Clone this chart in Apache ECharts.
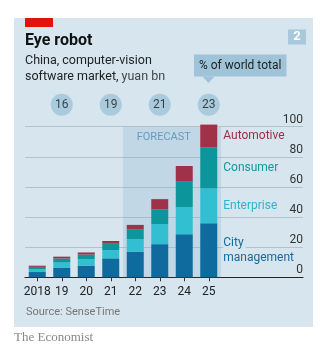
<!DOCTYPE html>
<html>
<head>
<meta charset="utf-8">
<script src="https://cdn.jsdelivr.net/npm/echarts@6/dist/echarts.min.js"></script>
<style>
html,body{margin:0;padding:0;background:#fff;}
#c{width:330px;height:350px;}
</style>
</head>
<body>
<div id="c"></div>
<script>
// ---- data ----
const categories = ['2018', '19', '20', '21', '22', '23', '24', '25'];
const cityManagement = [3.5, 6.5, 7.8, 12.6, 17.0, 22.0, 28.6, 35.9];
const enterprise = [2.0, 3.3, 4.3, 5.5, 8.4, 13.3, 18.0, 23.1];
const consumer = [1.4, 2.7, 3.0, 4.2, 6.3, 9.9, 17.3, 27.3];
const automotive = [0.8, 1.2, 1.4, 1.8, 3.1, 6.7, 10.0, 15.1];
const shareYears = ['19', '21', '23', '25'];
const shareOfWorld = [16, 19, 21, 23];
const yTicks = [0, 20, 40, 60, 80, 100];
const forecastFrom = 4; // index of '22'

// ---- styling ----
const FONT = 'Roboto';
const PANEL = '#d6e5ee';
const CIRCLE_LEVEL = 114.6;
const colors = {
  city: '#0f6a9e',
  ent: '#33bfd2',
  cons: '#0c969b',
  auto: '#9f3249'
};

const chart = echarts.init(document.getElementById('c'), null, {renderer: 'canvas'});
const last = categories.length - 1;

function withEndLabel(arr, labelCfg) {
  return arr.map((v, i) => i === last ? {value: v, label: labelCfg} : v);
}

function barSeries(name, data, color, labelCfg) {
  return {
    type: 'bar', name: name, stack: 'total', xAxisIndex: 0, yAxisIndex: 0,
    barWidth: 17, clip: false, z: 3,
    itemStyle: {color: color},
    label: {show: false},
    data: withEndLabel(data, labelCfg)
  };
}

function legendLabel(text, color) {
  return {
    show: true, position: 'right', distance: 6,
    formatter: text, color: color, fontFamily: FONT, fontSize: 12
  };
}

const option = {
  animation: false,
  backgroundColor: '#ffffff',
  textStyle: {fontFamily: FONT},
  graphic: [
    {type: 'rect', z: -10, shape: {x: 14, y: 18, width: 299, height: 309}, style: {fill: PANEL}},
    {type: 'rect', z: 1, shape: {x: 25, y: 18, width: 28, height: 9}, style: {fill: '#e3120b'}},
    {type: 'text', z: 1, x: 25, y: 41, style: {text: 'Eye robot', fill: '#111', font: 'bold 16px ' + FONT, verticalAlign: 'middle'}},
    {type: 'text', z: 1, x: 25, y: 60.5, style: {text: 'China, computer-vision', fill: '#222', font: '12.5px ' + FONT, verticalAlign: 'middle'}},
    {type: 'text', z: 1, x: 25, y: 76.5, style: {
      text: '{a|software market, }{b|yuan bn}', verticalAlign: 'middle',
      rich: {a: {fill: '#222', font: '12.5px ' + FONT}, b: {fill: '#444', font: '12.5px ' + FONT}}
    }},
    {type: 'rect', z: 1, shape: {x: 288, y: 29.5, width: 18, height: 15}, style: {fill: '#a9c8db'}},
    {type: 'text', z: 2, x: 297, y: 37.2, style: {text: '2', fill: '#fff', font: 'bold 13px ' + FONT, align: 'center', verticalAlign: 'middle'}},
    {type: 'rect', z: 1, shape: {x: 194, y: 54.5, width: 92.5, height: 22}, style: {fill: '#9fc4d9'}},
    {type: 'polygon', z: 1, shape: {points: [[202.5, 76.5], [214.5, 76.5], [208.5, 83]]}, style: {fill: '#9fc4d9'}},
    {type: 'text', z: 2, x: 240.2, y: 65.7, style: {text: '% of world total', fill: '#222', font: '12px ' + FONT, align: 'center', verticalAlign: 'middle'}},
    {type: 'text', z: 1, x: 136.7, y: 137.7, style: {text: 'FORECAST', fill: '#6199bb', font: '11px ' + FONT, verticalAlign: 'middle'}},
    {type: 'text', z: 1, x: 26, y: 312.3, style: {text: 'Source: SenseTime', fill: '#777', font: '11px ' + FONT, verticalAlign: 'middle'}},
    {type: 'text', z: 1, x: 14, y: 337.7, style: {text: 'The Economist', fill: '#888', font: '13px "Liberation Serif"', verticalAlign: 'middle'}}
  ],
  grid: [
    {left: 25, width: 196, top: 126.7, bottom: 72.7},
    {left: 25, right: 27, top: 126.7, bottom: 72.7}
  ],
  xAxis: [
    {
      type: 'category', gridIndex: 0, data: categories,
      axisLine: {show: false},
      axisTick: {show: true, alignWithLabel: true, length: 4, lineStyle: {color: '#333', width: 1}},
      axisLabel: {color: '#222', fontSize: 12, margin: 9, fontFamily: FONT, interval: 0},
      splitLine: {show: false}
    },
    {type: 'value', gridIndex: 0, min: 0, max: categories.length, show: false},
    {
      type: 'value', gridIndex: 1, min: 0, max: 1,
      axisLine: {show: true, onZero: false, lineStyle: {color: '#222', width: 1.2}},
      axisTick: {show: false}, axisLabel: {show: false}, splitLine: {show: false}
    }
  ],
  yAxis: [
    {type: 'value', gridIndex: 0, min: 0, max: 100, show: false},
    {
      type: 'value', gridIndex: 1, position: 'right', min: yTicks[0], max: yTicks[yTicks.length - 1], interval: 20,
      axisLine: {show: false}, axisTick: {show: false},
      axisLabel: {inside: true, margin: 0, verticalAlign: 'bottom', color: '#333', fontSize: 12, fontFamily: FONT, lineHeight: 14},
      splitLine: {show: true, lineStyle: {color: '#b2c3cd', width: 1}}
    }
  ],
  series: [
    {
      type: 'line', xAxisIndex: 1, yAxisIndex: 0, data: [], silent: true,
      markArea: {
        silent: true,
        itemStyle: {color: 'rgba(120,168,200,0.22)'},
        data: [[{xAxis: forecastFrom}, {xAxis: categories.length}]]
      }
    },
    barSeries('City management', cityManagement, colors.city, {
      show: true, position: 'right', distance: 6,
      formatter: '{c|City}\n{m|management}',
      rich: {
        c: {color: '#1a6a9c', fontSize: 12, fontFamily: FONT, backgroundColor: PANEL, padding: [0, 2, 0, 0], lineHeight: 14.5},
        m: {color: '#1a6a9c', fontSize: 12, fontFamily: FONT, lineHeight: 14.5}
      }
    }),
    barSeries('Enterprise', enterprise, colors.ent, legendLabel('Enterprise', '#2db5c9')),
    barSeries('Consumer', consumer, colors.cons, legendLabel('Consumer', '#13979f')),
    barSeries('Automotive', automotive, colors.auto, legendLabel('Automotive', '#9c2f46')),
    {
      type: 'scatter', xAxisIndex: 0, yAxisIndex: 0, clip: false, z: 4,
      symbol: 'circle', symbolSize: 22,
      itemStyle: {color: '#9fc4d9'},
      label: {show: true, position: 'inside', color: '#1a1a1a', fontSize: 12, fontFamily: FONT,
        formatter: p => String(p.data.share)},
      data: shareYears.map((y, i) => ({value: [y, CIRCLE_LEVEL], share: shareOfWorld[i]}))
    }
  ]
};
chart.setOption(option);
</script>
</body>
</html>
